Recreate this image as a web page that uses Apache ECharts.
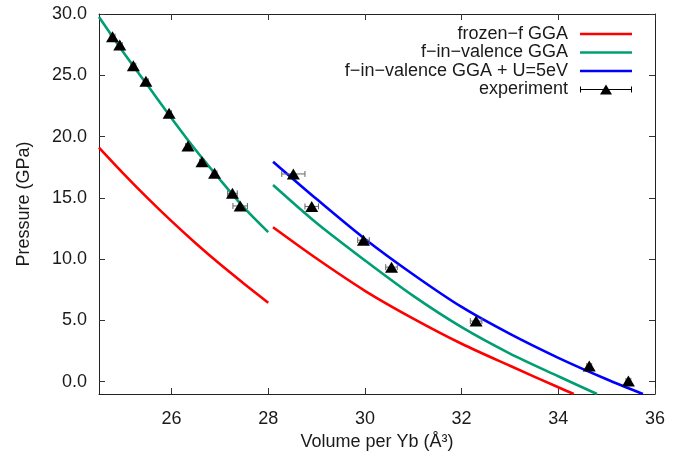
<!DOCTYPE html>
<html>
<head>
<meta charset="utf-8">
<script src="https://cdn.jsdelivr.net/npm/echarts@6/dist/echarts.min.js"></script>
<style>html,body{margin:0;padding:0;background:#fff}#c{width:691px;height:458px}</style>
</head>
<body>
<div id="c"></div>
<script>
// ---- data ----
const seriesNames = ['frozen\u2212f GGA', 'f\u2212in\u2212valence GGA', 'f\u2212in\u2212valence GGA + U=5eV', 'experiment'];
const xTicks = [26, 28, 30, 32, 34, 36];
const yTicks = [0, 5, 10, 15, 20, 25, 30];

// left (compressed) segments
const leftV        = [24.5, 25.0, 25.5, 26.0, 26.5, 27.0, 27.5, 28.0];
const frozenLeftP  = [19.1, 17.0, 15.0, 13.1, 11.3, 9.6, 8.0, 6.45];
const fvalLeftP    = [29.75, 26.9, 24.2, 21.5, 18.9, 16.5, 14.2, 12.2];

// right segments
const frozenRightV = [28.1, 29.0, 30.0, 31.0, 32.0, 33.0, 34.0, 34.32];
const frozenRightP = [12.6, 10.05, 7.42, 5.15, 3.1, 1.3, -0.45, -1.0];
const fvalRightV   = [28.1, 29.0, 30.0, 31.0, 32.0, 33.0, 34.0, 34.8];
const fvalRightP   = [16.05, 12.95, 9.9, 7.0, 4.45, 2.3, 0.45, -1.0];
const fvalURightV  = [28.1, 29.0, 30.0, 31.0, 32.0, 33.0, 34.0, 35.0, 35.75];
const fvalURightP  = [17.95, 14.9, 11.65, 8.75, 6.1, 3.9, 1.95, 0.2, -1.0];

// experiment
const expV   = [24.78, 24.93, 25.21, 25.47, 25.95, 26.34, 26.63, 26.89, 27.26, 27.42, 28.52, 28.9, 29.97, 30.55, 32.3, 34.64, 35.45];
const expP   = [28.15, 27.47, 25.78, 24.51, 21.9, 19.23, 17.95, 17.0, 15.37, 14.34, 16.95, 14.3, 11.55, 9.35, 4.95, 1.28, 0.07];
const expErr = [0.05, 0.05, 0.05, 0.05, 0.05, 0.05, 0.05, 0.05, 0.1, 0.15, 0.24, 0.14, 0.12, 0.12, 0.12, 0.05, 0.05];

// ---- chart ----
const FONT = '"Liberation Sans", Arial, Helvetica, sans-serif';
const TXT = '#1a1a1a';
const colors = ['#ff0000', '#009e73', '#0000ff', '#000000'];
const zip = (a, b) => a.map((v, i) => [v, b[i]]);

const chart = echarts.init(document.getElementById('c'), null, {renderer: 'canvas'});

function lineSeries(name, color, v, p) {
  return {
    name: name, type: 'line', data: zip(v, p), smooth: 0.3,
    symbol: 'none', showSymbol: false, clip: true,
    lineStyle: {color: color, width: 2.6}, itemStyle: {color: color},
    z: 2, animation: false
  };
}

const tickStyle = {show: true, inside: true, length: 6, lineStyle: {color: '#333', width: 1}};
const axisLineStyle = {show: true, onZero: false, lineStyle: {color: '#222', width: 1}};

const lineIcon = 'path://M0,3.7H52V6.3H0Z M26,0Z M26,10Z';
const expIcon = 'path://M0,5.5H52V6.5H0Z M0,3H1V9H0Z M51,3H52V9H51Z M20,11L26,1L32,11Z';

chart.setOption({
  animation: false,
  backgroundColor: '#fff',
  grid: {left: 99, right: 36, top: 14, bottom: 64, containLabel: false},
  legend: {
    orient: 'vertical', right: 59, top: 25, align: 'right', padding: 0,
    itemWidth: 66, itemHeight: 10, itemGap: 0.5, symbolKeepAspect: true,
    textStyle: {fontSize: 18, fontFamily: FONT, color: TXT},
    data: [
      {name: seriesNames[0], icon: lineIcon},
      {name: seriesNames[1], icon: lineIcon},
      {name: seriesNames[2], icon: lineIcon},
      {name: seriesNames[3], icon: expIcon}
    ]
  },
  xAxis: [
    {
      type: 'value', position: 'bottom', min: 24.5, max: 36,
      name: 'Volume per Yb (\u00c5\u00b3)', nameLocation: 'middle', nameGap: 36,
      nameTextStyle: {fontSize: 18, fontFamily: FONT, color: TXT},
      axisLine: axisLineStyle,
      axisTick: Object.assign({customValues: xTicks}, tickStyle),
      axisLabel: {customValues: xTicks, fontSize: 18, fontFamily: FONT, color: TXT, margin: 16},
      splitLine: {show: false}
    },
    {
      type: 'value', position: 'top', min: 24.5, max: 36,
      axisLine: axisLineStyle,
      axisTick: Object.assign({customValues: xTicks}, tickStyle),
      axisLabel: {show: false}, splitLine: {show: false}
    }
  ],
  yAxis: [
    {
      type: 'value', position: 'left', min: -1, max: 30,
      name: 'Pressure (GPa)', nameLocation: 'middle', nameGap: 66, nameRotate: 90,
      nameTextStyle: {fontSize: 18, fontFamily: FONT, color: TXT},
      axisLine: axisLineStyle,
      axisTick: Object.assign({customValues: yTicks}, tickStyle),
      axisLabel: {customValues: yTicks, fontSize: 18, fontFamily: FONT, color: TXT, margin: 12,
                  formatter: v => Number(v).toFixed(1)},
      splitLine: {show: false}
    },
    {
      type: 'value', position: 'right', min: -1, max: 30,
      axisLine: axisLineStyle,
      axisTick: Object.assign({customValues: yTicks}, tickStyle),
      axisLabel: {show: false}, splitLine: {show: false}
    }
  ],
  series: [
    lineSeries(seriesNames[0], colors[0], leftV, frozenLeftP),
    lineSeries(seriesNames[0], colors[0], frozenRightV, frozenRightP),
    lineSeries(seriesNames[1], colors[1], leftV, fvalLeftP),
    lineSeries(seriesNames[1], colors[1], fvalRightV, fvalRightP),
    lineSeries(seriesNames[2], colors[2], fvalURightV, fvalURightP),
    {
      name: 'experiment error', type: 'custom',
      data: expV.map((v, i) => [v, expP[i], expErr[i]]),
      z: 3, silent: true,
      renderItem: function (params, api) {
        const v = api.value(0), p = api.value(1), e = api.value(2);
        const a = api.coord([v - e, p]);
        const b = api.coord([v + e, p]);
        const st = {stroke: '#666', lineWidth: 1};
        return {
          type: 'group',
          children: [
            {type: 'line', shape: {x1: a[0], y1: a[1], x2: b[0], y2: b[1]}, style: st},
            {type: 'line', shape: {x1: a[0], y1: a[1] - 3, x2: a[0], y2: a[1] + 3}, style: st},
            {type: 'line', shape: {x1: b[0], y1: b[1] - 3, x2: b[0], y2: b[1] + 3}, style: st}
          ]
        };
      }
    },
    {
      name: seriesNames[3], type: 'scatter',
      data: zip(expV, expP),
      symbol: 'triangle', symbolSize: [13, 11],
      itemStyle: {color: colors[3], opacity: 1},
      z: 4
    }
  ]
});
</script>
</body>
</html>
